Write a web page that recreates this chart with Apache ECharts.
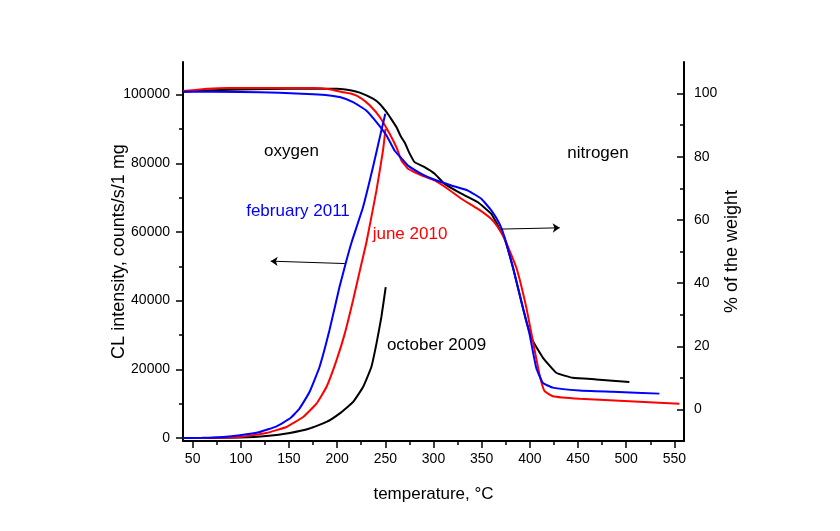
<!DOCTYPE html>
<html>
<head>
<meta charset="utf-8">
<script src="https://cdn.jsdelivr.net/npm/echarts@6/dist/echarts.min.js"></script>
<style>html,body{margin:0;padding:0;background:#fff;}#c{width:840px;height:531px;}</style>
</head>
<body>
<div id="c"></div>
<script>
// ---- data ----
const xMajorTicks = [50,100,150,200,250,300,350,400,450,500,550];
const xMinorTicks = [75,125,175,225,275,325,375,425,475,525];
const clMajorTicks = [0,20000,40000,60000,80000,100000];
const clMinorTicks = [10000,30000,50000,70000,90000];
const wMajorTicks = [0,20,40,60,80,100];
const wMinorTicks = [10,30,50,70,90];

// CL intensity (left axis)
const clOct2009 = [[40,0],[70,20],[99,120],[126.7,580],[150.9,1460],[171.3,2740],[188.9,4660],[202.4,7100],[216.5,10480],[226.9,14850],[235.5,20670],[240.8,27480],[245.9,35230],[250.4,43960]];
const clJun2010 = [[40,0],[70,60],[99,290],[126.7,1460],[147.4,3200],[164.7,6110],[178.5,10000],[188.9,14850],[199.3,22620],[207.9,30390],[216.5,40090],[225.2,50770],[230.4,57000],[240.8,72110],[247.6,83760],[250.2,90000]];
const clFeb2011 = [[40,0],[60,40],[81.7,290],[99,790],[119.7,1750],[137.1,3400],[150.9,5650],[160.9,8560],[171.3,13390],[181.7,20670],[192,31350],[202.4,43960],[209.7,51730],[215,57000],[226.9,67250],[237.2,78900],[245.9,89580],[250,94440]];

// % of the weight (right axis)
const wOct2009 = [[40,100.6],[60,101.0],[100,101.3],[150,101.5],[200,101.5],[215,101.0],[223.5,100.3],[237.2,98.4],[244,96.8],[251.1,94.2],[256,92.0],[261.5,89.4],[266,86.5],[270.1,84.5],[275.3,81.0],[280.4,78.3],[290.8,76.7],[301.2,74.6],[311.6,71.4],[328.9,68.3],[346.1,65.6],[360,61.9],[366.8,58.2],[373.8,54.0],[382.4,45.0],[389.3,36.5],[396.3,28.0],[403.1,21.7],[413.5,16.4],[427.4,11.6],[444.6,10.0],[468.8,9.5],[503.3,8.7]];
const wJun2010 = [[40,100.8],[65,101.5],[87,101.8],[175,101.8],[192,101.4],[205,100.5],[216.5,99.8],[225,98.5],[233.8,96.3],[244.2,92.6],[254.5,87.3],[261.5,83.0],[266.7,78.8],[270,77.5],[273.5,76.2],[287.4,74.1],[301.2,72.5],[315,69.8],[328.9,66.7],[346.1,63.5],[360,60.3],[366.8,57.7],[373.8,54.0],[385.9,45.0],[396.3,32.3],[403.1,21.7],[410,11.1],[415.2,5.8],[423.8,4.2],[451.5,3.4],[503.3,2.6],[555.2,1.8]];
const wFeb2011 = [[40,100.6],[100,100.5],[140,100.3],[175,99.8],[190,99.5],[202.7,98.9],[216.5,97.3],[230.4,94.6],[240.8,91.0],[251.1,86.8],[259.7,81.9],[268.3,79.0],[273.5,77.2],[287.4,74.6],[301.2,72.7],[318.5,70.9],[335.7,69.3],[349.6,66.7],[360,63.0],[368.6,58.7],[373.8,54.5],[382.4,45.0],[392.7,32.3],[399.7,23.8],[406.6,13.2],[413.5,8.4],[423.8,6.9],[451.5,6.0],[486,5.6],[534.5,5.0]];

// arrows (data coordinates)
const arrowToCL = [[208,50800],[131,51500]];
const arrowToWeight = [[370,57.1],[431,57.5]];

const FONT = '"Liberation Sans", Arial, sans-serif';
const X_MIN = 40, X_MAX = 560;
const CL_MIN = -880, CL_MAX = 109500;
const W_MIN = -10, W_MAX = 110;

const chart = echarts.init(document.getElementById('c'), null, {renderer:'canvas'});

function lineSeries(name, data, color, yIdx, extra) {
  return Object.assign({
    name, type:'line', data, xAxisIndex:0, yAxisIndex:yIdx,
    showSymbol:false, symbol:'none', smooth:0.12,
    lineStyle:{color, width:2}, itemStyle:{color},
    emphasis:{disabled:true}, silent:true
  }, extra || {});
}
function arrow(pts) {
  return {
    silent:true, animation:false,
    symbol:['none','arrow'], symbolSize:7,
    lineStyle:{color:'#000', width:1, type:'solid'},
    label:{show:false}, emphasis:{disabled:true},
    data:[[{coord:pts[0]},{coord:pts[1]}]]
  };
}

const axisLineStyle = {show:true, onZero:false, lineStyle:{color:'#000', width:2}};
const tickStyle = {color:'#000', width:1.5};
const labelStyle = {color:'#000', fontSize:14, fontFamily:FONT};
const plainNum = v => String(v);

chart.setOption({
  animation:false,
  backgroundColor:'#ffffff',
  grid:{left:183, top:62, width:501, height:379, containLabel:false},
  xAxis:[
    {type:'value', min:X_MIN, max:X_MAX, position:'bottom',
     axisLine:axisLineStyle,
     axisTick:{show:true, length:7, lineStyle:tickStyle, customValues:xMajorTicks},
     axisLabel:Object.assign({margin:11, customValues:xMajorTicks, formatter:plainNum}, labelStyle),
     splitLine:{show:false},
     name:'temperature, °C', nameLocation:'middle', nameGap:45, nameMoveOverlap:false,
     nameTextStyle:{color:'#000', fontSize:17, fontFamily:FONT}},
    {type:'value', min:X_MIN, max:X_MAX, position:'bottom',
     axisLine:{show:false, onZero:false},
     axisTick:{show:true, length:4, lineStyle:tickStyle, customValues:xMinorTicks},
     axisLabel:{show:false}, splitLine:{show:false}}
  ],
  yAxis:[
    {type:'value', min:CL_MIN, max:CL_MAX, position:'left',
     axisLine:axisLineStyle,
     axisTick:{show:true, length:7, lineStyle:tickStyle, customValues:clMajorTicks},
     axisLabel:Object.assign({margin:13, customValues:clMajorTicks, formatter:plainNum}, labelStyle),
     splitLine:{show:false},
     name:'CL intensity, counts/s/1 mg', nameLocation:'middle', nameGap:55, nameMoveOverlap:false,
     nameTextStyle:{color:'#000', fontSize:18, fontFamily:FONT}},
    {type:'value', min:W_MIN, max:W_MAX, position:'right',
     axisLine:axisLineStyle,
     axisTick:{show:true, inside:true, length:7, lineStyle:tickStyle, customValues:wMajorTicks},
     axisLabel:Object.assign({margin:10, customValues:wMajorTicks, formatter:plainNum}, labelStyle),
     splitLine:{show:false},
     name:'% of the weight', nameLocation:'middle', nameGap:39, nameRotate:90, nameMoveOverlap:false,
     nameTextStyle:{color:'#000', fontSize:18, fontFamily:FONT}},
    {type:'value', min:CL_MIN, max:CL_MAX, position:'left',
     axisLine:{show:false, onZero:false},
     axisTick:{show:true, length:4, lineStyle:tickStyle, customValues:clMinorTicks},
     axisLabel:{show:false}, splitLine:{show:false}},
    {type:'value', min:W_MIN, max:W_MAX, position:'right',
     axisLine:{show:false, onZero:false},
     axisTick:{show:true, inside:true, length:4, lineStyle:tickStyle, customValues:wMinorTicks},
     axisLabel:{show:false}, splitLine:{show:false}}
  ],
  series:[
    lineSeries('october 2009 weight', wOct2009, '#000000', 1),
    lineSeries('october 2009 CL', clOct2009, '#000000', 0),
    lineSeries('june 2010 weight', wJun2010, '#ff0000', 1, {markLine:arrow(arrowToWeight)}),
    lineSeries('june 2010 CL', clJun2010, '#ff0000', 0),
    lineSeries('february 2011 weight', wFeb2011, '#0000ff', 1),
    lineSeries('february 2011 CL', clFeb2011, '#0000ff', 0, {markLine:arrow(arrowToCL)})
  ],
  graphic:[
    {type:'text', x:291.5, y:151, style:{text:'oxygen', fill:'#000', font:'17px '+FONT, align:'center', verticalAlign:'middle'}},
    {type:'text', x:598, y:153, style:{text:'nitrogen', fill:'#000', font:'17px '+FONT, align:'center', verticalAlign:'middle'}},
    {type:'text', x:298, y:211, style:{text:'february 2011', fill:'#0000ff', font:'17px '+FONT, align:'center', verticalAlign:'middle'}},
    {type:'text', x:410, y:234, style:{text:'june 2010', fill:'#ff0000', font:'17px '+FONT, align:'center', verticalAlign:'middle'}},
    {type:'text', x:436.5, y:345, style:{text:'october 2009', fill:'#000', font:'17px '+FONT, align:'center', verticalAlign:'middle'}}
  ]
});
</script>
</body>
</html>
